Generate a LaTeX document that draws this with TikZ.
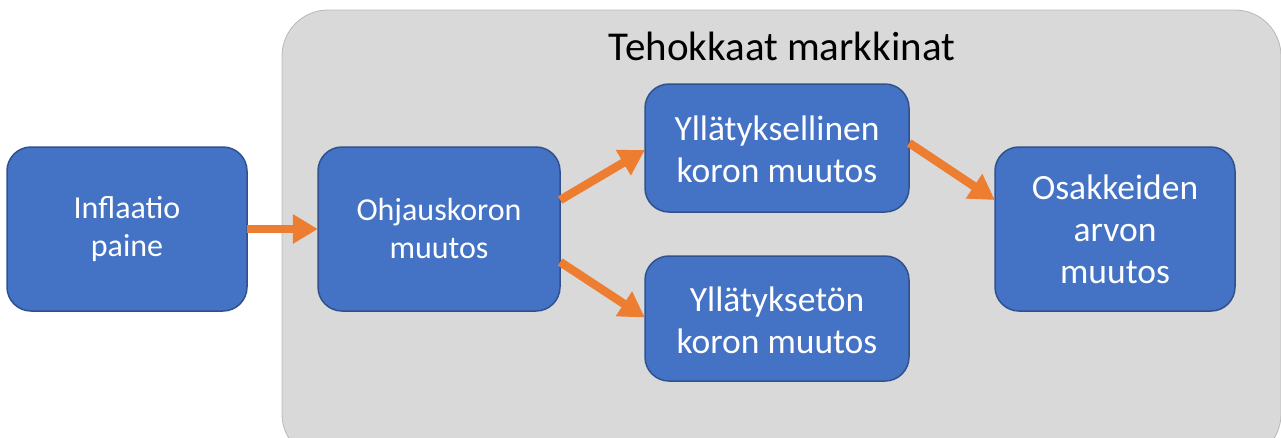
\documentclass[tikz,border=0pt]{standalone}
\usepackage{fontspec}
\setmainfont{Carlito}
\usetikzlibrary{arrows.meta}
\definecolor{boxblue}{HTML}{4472C4}
\definecolor{boxedge}{HTML}{2F528F}
\definecolor{arrorange}{HTML}{ED7D31}
\definecolor{panelgray}{HTML}{D9D9D9}
\begin{document}
\begin{tikzpicture}[x=1pt,y=-1pt,
  stepbox/.style={draw=boxedge, line width=1.5pt, fill=boxblue, rounded corners=24pt},
  anchorbox/.style={inner sep=0pt},
  boxtext/.style={text=white, align=center, font=\fontsize{32}{38}\selectfont},
  bigtext/.style={text=white, align=center, font=\fontsize{35.5}{42}\selectfont},
  flow/.style={draw=arrorange, line width=8.5pt,
    -{Triangle[length=25pt,width=28pt]}}]
\useasboundingbox (0,0) rectangle (1281,437);
\begin{scope}
\clip (0,0) rectangle (1281,437);
\filldraw[fill=panelgray, draw=panelgray!85!black, line width=0.8pt, rounded corners=46pt]
  (282,10) rectangle (1281,460);
\end{scope}
\node[font=\fontsize{41}{48}\selectfont] (title) at (782,46) {Tehokkaat markkinat};
\path[stepbox] (7,147) rectangle (247,311);
\node[anchorbox, minimum width=240pt, minimum height=164pt] (infl) at (127,229) {};
\node[boxtext] at (infl.center) {Inflaatio\\paine};
\path[stepbox] (318,147) rectangle (560,311);
\node[anchorbox, minimum width=242pt, minimum height=164pt] (ohj) at (439,229) {};
\node[boxtext] at (ohj.center) {Ohjauskoron\\muutos};
\path[stepbox] (645,84) rectangle (909,212);
\node[anchorbox, minimum width=264pt, minimum height=128pt] (yll) at (777,148) {};
\node[bigtext] at ([yshift=-1pt]yll.center) {Yllätyksellinen\\koron muutos};
\path[stepbox] (645,256) rectangle (909,381);
\node[anchorbox, minimum width=264pt, minimum height=125pt] (ylt) at (777,318.5) {};
\node[bigtext] at ([yshift=-2pt]ylt.center) {Yllätyksetön\\koron muutos};
\path[stepbox] (995,147) rectangle (1235,311);
\node[anchorbox, minimum width=240pt, minimum height=164pt] (osa) at (1115,229) {};
\node[bigtext] at (osa.center) {Osakkeiden\\arvon\\muutos};
\draw[flow] (infl.east) -- (ohj.west);
\draw[flow] ([yshift=29pt]ohj.east) -- ([yshift=-2pt]yll.west);
\draw[flow] ([yshift=-33pt]ohj.east) -- ([yshift=1pt]ylt.west);
\draw[flow] ([yshift=5pt]yll.east) -- ([yshift=29pt]osa.west);
\end{tikzpicture}
\end{document}
